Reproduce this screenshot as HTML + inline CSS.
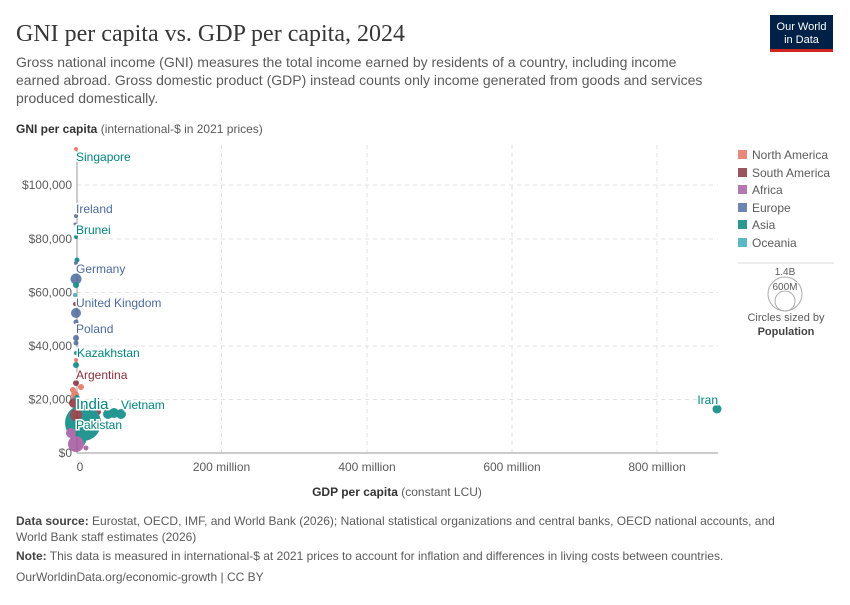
<!DOCTYPE html>
<html><head><meta charset="utf-8"><style>
body{margin:0;background:#fff;width:850px;height:600px;overflow:hidden;font-family:"Liberation Sans",sans-serif}
</style></head><body>
<svg width="850" height="600" xmlns="http://www.w3.org/2000/svg" font-family="Liberation Sans, sans-serif">
<text x="16" y="41" font-family="Liberation Serif, serif" font-size="24" fill="#373737">GNI per capita vs. GDP per capita, 2024</text>
<rect x="770" y="15" width="63" height="34" fill="#002147"/>
<rect x="770" y="49" width="63" height="3" fill="#ce261e"/>
<text x="801.5" y="30" font-size="11" fill="#fff" text-anchor="middle">Our World</text>
<text x="801.5" y="43" font-size="11" fill="#fff" text-anchor="middle">in Data</text>
<g font-size="14" fill="#5b5b5b">
<text x="16" y="67">Gross national income (GNI) measures the total income earned by residents of a country, including income</text>
<text x="16" y="85">earned abroad. Gross domestic product (GDP) instead counts only income generated from goods and services</text>
<text x="16" y="103">produced domestically.</text>
</g>
<text x="16" y="133" font-size="12" fill="#5b5b5b"><tspan font-weight="bold" fill="#333">GNI per capita</tspan> (international-$ in 2021 prices)</text>
<g stroke="#e2e2e2" stroke-dasharray="4,4" stroke-width="1">
<line x1="77" x2="718" y1="185" y2="185"/><line x1="77" x2="718" y1="239" y2="239"/><line x1="77" x2="718" y1="292.5" y2="292.5"/><line x1="77" x2="718" y1="346" y2="346"/><line x1="77" x2="718" y1="399.5" y2="399.5"/>
<line x1="221.5" x2="221.5" y1="145" y2="453"/><line x1="367" x2="367" y1="145" y2="453"/><line x1="512" x2="512" y1="145" y2="453"/><line x1="657" x2="657" y1="145" y2="453"/>
</g>
<line x1="77" x2="718" y1="453" y2="453" stroke="#999"/>
<line x1="77" x2="77" y1="150" y2="453" stroke="#999"/>
<g font-size="12" fill="#5b5b5b" text-anchor="end">
<text x="72" y="189">$100,000</text><text x="72" y="243">$80,000</text><text x="72" y="296.5">$60,000</text><text x="72" y="350">$40,000</text><text x="72" y="403.5">$20,000</text><text x="72" y="457">$0</text>
</g>
<g font-size="12" fill="#5b5b5b" text-anchor="middle">
<text x="80" y="471">0</text><text x="221.5" y="471">200 million</text><text x="367" y="471">400 million</text><text x="512" y="471">600 million</text><text x="657" y="471">800 million</text>
</g>
<text x="397" y="496" font-size="12" fill="#5b5b5b" text-anchor="middle"><tspan font-weight="bold" fill="#333">GDP per capita</tspan> (constant LCU)</text>
<g opacity="0.85">
<circle cx="76" cy="149" r="2" fill="#e56e5a"/>
<circle cx="76" cy="216" r="2" fill="#4c6a9c"/><circle cx="75" cy="224" r="1.5" fill="#4c6a9c"/>
<circle cx="76" cy="237" r="2" fill="#00847e"/><circle cx="77" cy="260" r="2.5" fill="#00847e"/><circle cx="76" cy="263" r="2" fill="#4c6a9c"/>
<circle cx="76" cy="279" r="5.5" fill="#4c6a9c"/><circle cx="76" cy="285" r="3" fill="#00847e"/><circle cx="75" cy="295" r="2" fill="#38aaba"/>
<circle cx="75" cy="304" r="2" fill="#883039"/><circle cx="76" cy="313" r="5" fill="#4c6a9c"/><circle cx="76" cy="322" r="2.5" fill="#4c6a9c"/>
<circle cx="76" cy="338" r="3" fill="#4c6a9c"/><circle cx="76" cy="343" r="2.5" fill="#4c6a9c"/><circle cx="76" cy="353" r="2" fill="#00847e"/>
<circle cx="76" cy="360" r="2" fill="#e56e5a"/><circle cx="76" cy="365" r="3" fill="#00847e"/><circle cx="76" cy="383" r="3" fill="#883039"/>
<circle cx="73" cy="390" r="3" fill="#e56e5a"/><circle cx="81" cy="387" r="3" fill="#e56e5a"/><circle cx="75" cy="395" r="4" fill="#e56e5a"/>
<circle cx="74" cy="403" r="5" fill="#883039"/><circle cx="77" cy="398" r="3" fill="#00847e"/>
<circle cx="98" cy="412" r="3" fill="#883039"/><circle cx="108" cy="414" r="5" fill="#00847e"/><circle cx="114" cy="413" r="5" fill="#00847e"/><circle cx="121" cy="414" r="5" fill="#00847e"/>
<circle cx="83" cy="423" r="18" fill="#00847e"/><circle cx="76" cy="415" r="6" fill="#883039"/>
<circle cx="78" cy="440" r="8" fill="#00847e"/><circle cx="76" cy="444" r="8" fill="#a2559c"/><circle cx="86" cy="448" r="2.5" fill="#a2559c"/><circle cx="71" cy="433" r="5" fill="#a2559c"/>
<circle cx="717" cy="409" r="4.5" fill="#00847e"/>
</g>
<g font-size="12" stroke="#fff" stroke-width="3" paint-order="stroke">
<text x="76" y="161" fill="#00847e">Singapore</text>
<text x="76" y="213" fill="#4c6a9c">Ireland</text>
<text x="76" y="234" fill="#00847e">Brunei</text>
<text x="76" y="273" fill="#4c6a9c">Germany</text>
<text x="76" y="307" fill="#4c6a9c">United Kingdom</text>
<text x="76" y="333" fill="#4c6a9c">Poland</text>
<text x="77" y="357" fill="#00847e">Kazakhstan</text>
<text x="76" y="379" fill="#883039">Argentina</text>
<text x="76" y="409" fill="#00847e" font-size="15">India</text>
<text x="121" y="409" fill="#00847e">Vietnam</text>
<text x="76" y="429" fill="#00847e">Pakistan</text>
<text x="718" y="404" fill="#00847e" text-anchor="end">Iran</text>
</g>
<g font-size="12" fill="#5b5b5b">
<rect x="738" y="150" width="9" height="9" fill="#e8897a"/><text x="752" y="159">North America</text>
<rect x="738" y="168" width="9" height="9" fill="#9a545b"/><text x="752" y="177">South America</text>
<rect x="738" y="185" width="9" height="9" fill="#b577b0"/><text x="752" y="194">Africa</text>
<rect x="738" y="203" width="9" height="9" fill="#6d86b0"/><text x="752" y="212">Europe</text>
<rect x="738" y="220" width="9" height="9" fill="#2b998f"/><text x="752" y="229">Asia</text>
<rect x="738" y="238" width="9" height="9" fill="#5ab9c5"/><text x="752" y="247">Oceania</text>
</g>
<line x1="738" x2="834" y1="263" y2="263" stroke="#ddd"/>
<circle cx="785" cy="294" r="17" fill="none" stroke="#aaa"/>
<circle cx="785" cy="301" r="10" fill="none" stroke="#aaa"/>
<text x="785" y="275" font-size="10" fill="#5b5b5b" text-anchor="middle" stroke="#fff" stroke-width="2" paint-order="stroke">1.4B</text>
<text x="785" y="290" font-size="10" fill="#5b5b5b" text-anchor="middle" stroke="#fff" stroke-width="2" paint-order="stroke">600M</text>
<text x="786" y="321" font-size="11" fill="#5b5b5b" text-anchor="middle">Circles sized by</text>
<text x="786" y="335" font-size="11" font-weight="bold" fill="#444" text-anchor="middle">Population</text>
<g font-size="12" fill="#5b5b5b">
<text x="16" y="525"><tspan font-weight="bold" fill="#444">Data source:</tspan> Eurostat, OECD, IMF, and World Bank (2026); National statistical organizations and central banks, OECD national accounts, and</text>
<text x="16" y="541">World Bank staff estimates (2026)</text>
<text x="16" y="560"><tspan font-weight="bold" fill="#444">Note:</tspan> This data is measured in international-$ at 2021 prices to account for inflation and differences in living costs between countries.</text>
<text x="16" y="581">OurWorldinData.org/economic-growth | CC BY</text>
</g>
</svg>
</body></html>
